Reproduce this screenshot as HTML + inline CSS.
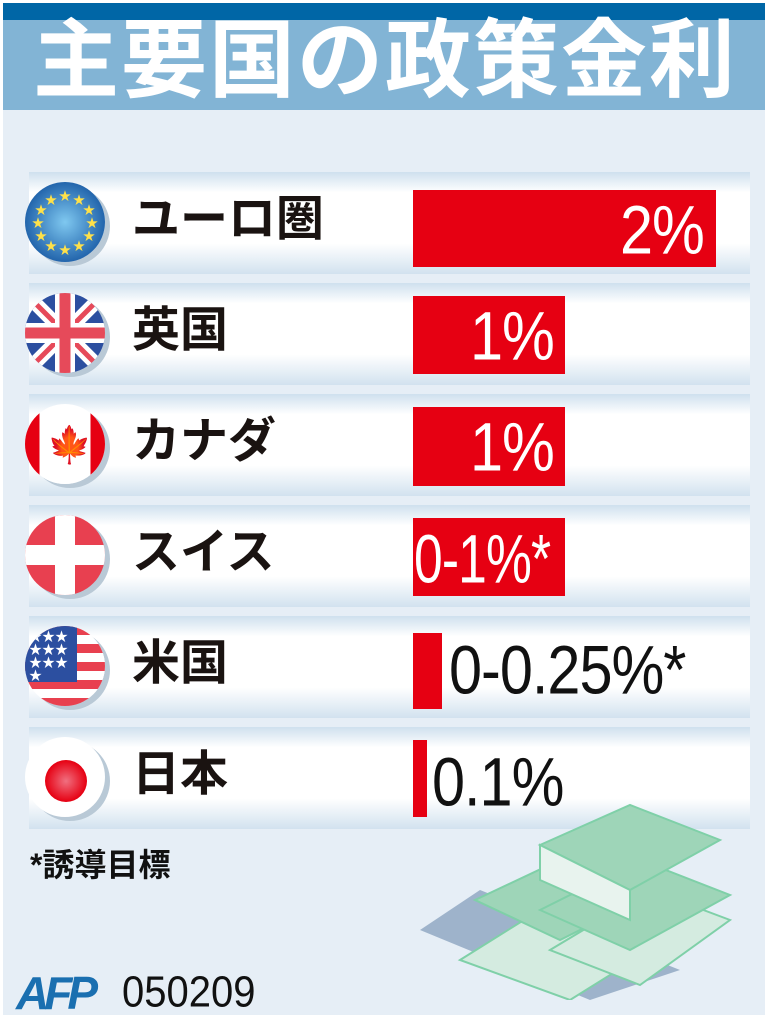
<!DOCTYPE html>
<html><head><meta charset="utf-8"><style>
body{margin:0;width:768px;height:1024px;background:#fff;position:relative;overflow:hidden;font-family:"Liberation Sans","Noto Sans CJK JP",sans-serif}
.a{position:absolute}
.row{position:absolute;left:29px;width:721px;height:102px;background:linear-gradient(#cfe0ee,#fff 20%,#fff 70%,#d2e2ef)}
.lab{position:absolute;left:103px;top:20px;font-size:48px;font-weight:bold;color:#1a1311;line-height:56px}
.bar{position:absolute;background:#e60012}
.val{position:absolute;font-size:60px;line-height:60px;color:#fff;font-family:"Liberation Sans Narrow","Liberation Sans",sans-serif;letter-spacing:-1px;white-space:nowrap;transform:scale(0.99,1.15);transform-origin:left top}
.ic{position:absolute;left:-4px;top:10px;width:80px;height:80px;border-radius:50%;box-shadow:5px 4px 0 #b9c9d6}
</style></head><body>
<div class="a" style="left:3px;top:3px;width:762px;height:17px;background:#0066a6"></div>
<div class="a" style="left:3px;top:20px;width:762px;height:90px;background:#82b4d5"></div>
<div class="a" style="left:3px;top:110px;width:762px;height:905px;background:#e6eef6"></div>
<div class="a" style="left:15px;top:16px;width:740px;text-align:center;font-size:86px;font-weight:bold;color:#fff;line-height:90px;letter-spacing:2px">主要国の政策金利</div>

<div class="row" style="top:172px"><div class="ic" style="background:radial-gradient(#7fc8f0,#1d5fa8 75%,#0f3f88)"></div><svg class="a" style="left:-4px;top:10px" width="80" height="80"><g fill="#ffe14a" font-size="12" text-anchor="middle"><text x="40" y="18">★</text><text x="54" y="22">★</text><text x="64" y="32">★</text><text x="67" y="45">★</text><text x="64" y="58">★</text><text x="54" y="68">★</text><text x="40" y="72">★</text><text x="26" y="68">★</text><text x="16" y="58">★</text><text x="13" y="45">★</text><text x="16" y="32">★</text><text x="26" y="22">★</text></g></svg><div class="lab">ユーロ圏</div></div>
<div class="row" style="top:283px"><div class="ic" style="background:#2c4fa0;overflow:hidden"><svg width="80" height="80"><path d="M0 0L80 80M80 0L0 80" stroke="#fff" stroke-width="14"/><path d="M0 0L80 80M80 0L0 80" stroke="#e64a5a" stroke-width="5"/><path d="M40 0V80M0 40H80" stroke="#fff" stroke-width="20"/><path d="M40 0V80M0 40H80" stroke="#e64a5a" stroke-width="11"/></svg></div><div class="lab">英国</div></div>
<div class="row" style="top:394px"><div class="ic" style="background:linear-gradient(90deg,#e60012 18%,#fff 18%,#fff 82%,#e60012 82%)"></div><div class="a" style="left:18px;top:30px;font-size:36px;color:#e60012;width:44px;text-align:center">🍁</div><div class="lab">カナダ</div></div>
<div class="row" style="top:505px"><div class="ic" style="background:#e84050;overflow:hidden"><div class="a" style="left:30px;top:0;width:20px;height:80px;background:#fff"></div><div class="a" style="left:0;top:30px;width:80px;height:20px;background:#fff"></div></div><div class="lab">スイス</div></div>
<div class="row" style="top:616px"><div class="ic" style="background:repeating-linear-gradient(#e8404f 0 9px,#fff 9px 18px);overflow:hidden"><div class="a" style="left:0;top:0;width:44px;height:48px;background:#2c4fa0;color:#fff;font-size:13px;line-height:13px;word-wrap:break-word;padding:4px">★★★★★★★★★★</div></div><div class="lab">米国</div></div>
<div class="row" style="top:727px"><div class="ic" style="background:#fff"></div><div class="a" style="left:16px;top:33px;width:42px;height:42px;border-radius:50%;background:radial-gradient(#f07080,#e60012 70%)"></div><div class="lab">日本</div></div>

<div class="bar" style="left:413px;top:190px;width:303px;height:77px"></div><div class="val" style="left:620px;top:196px">2%</div>
<div class="bar" style="left:413px;top:296px;width:152px;height:78px"></div><div class="val" style="left:470px;top:302px">1%</div>
<div class="bar" style="left:413px;top:407px;width:152px;height:79px"></div><div class="val" style="left:470px;top:413px">1%</div>
<div class="bar" style="left:413px;top:518px;width:152px;height:78px"></div><div class="val" style="left:414px;top:525px;transform:scale(0.86,1.15)">0-1%*</div>
<div class="bar" style="left:413px;top:633px;width:29px;height:76px"></div><div class="val" style="left:449px;top:636px;color:#111">0-0.25%*</div>
<div class="bar" style="left:413px;top:740px;width:14px;height:77px"></div><div class="val" style="left:432px;top:748px;color:#111">0.1%</div>

<div class="a" style="left:30px;top:840px;font-size:32px;font-weight:bold;color:#111">*誘導目標</div>
<svg class="a" style="left:420px;top:800px" width="330" height="200"><polygon points="0,130 60,90 260,170 170,200" fill="#9eb3cb"/><g stroke="#7fd0a8" stroke-width="2"><polygon points="40,160 120,110 230,150 150,200" fill="#d4ebe0"/><polygon points="130,150 230,90 310,120 220,185" fill="#d4ebe0"/><polygon points="55,100 140,60 230,95 140,140" fill="#9ed5b8"/><polygon points="120,110 220,60 310,95 210,150" fill="#9ed5b8"/><polygon points="120,45 210,5 300,40 210,90" fill="#9ed5b8"/><polygon points="120,45 210,90 210,120 120,80" fill="#e8f3ee"/></g></svg>
<div class="a" style="left:16px;top:966px;font-size:46px;font-weight:bold;font-style:italic;color:#1a6fb0;letter-spacing:-5px">AFP</div>
<div class="a" style="left:122px;top:968px;font-size:40px;color:#111;transform:scaleY(1.1);transform-origin:left top">050209</div>
</body></html>
